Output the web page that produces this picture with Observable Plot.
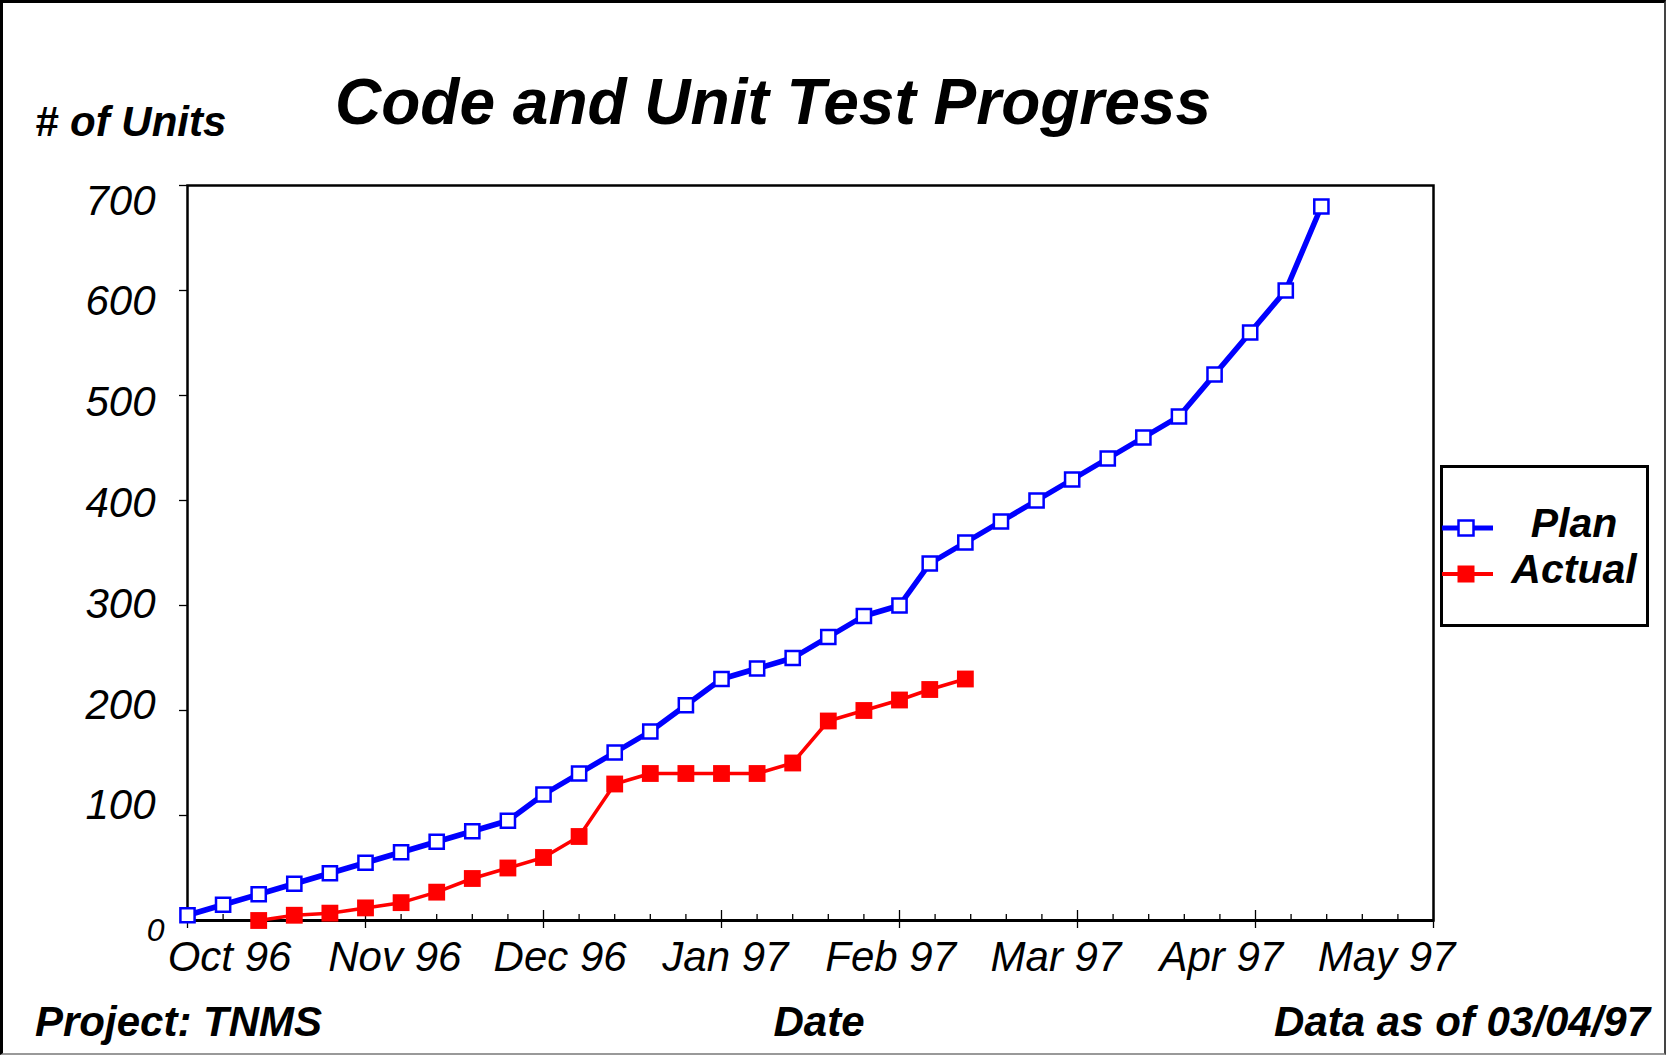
<!DOCTYPE html>
<html><head><meta charset="utf-8">
<script src="https://cdn.jsdelivr.net/npm/d3@7"></script>
<script src="https://cdn.jsdelivr.net/npm/@observablehq/plot@0.6"></script>
<style>
html,body{margin:0;padding:0;background:#fff;}
#page{position:relative;width:1666px;height:1055px;overflow:hidden;background:#fff;font-family:"Liberation Sans",Arial,Helvetica,sans-serif;}
#chart{position:absolute;left:0;top:0;}
#overlay{position:absolute;left:0;top:0;}
#border{position:absolute;left:0;top:0;width:1666px;height:1055px;box-sizing:border-box;border-left:3px solid #000;border-top:3px solid #000;border-right:2px solid #444;border-bottom:2px solid #999;pointer-events:none;}
</style></head>
<body>
<div id="page"><div id="chart"></div><svg id="overlay" width="1666" height="1055"></svg><div id="border"></div></div>
<script>
// ---- data ----
const monthLabels = ["Oct 96", "Nov 96", "Dec 96", "Jan 97", "Feb 97", "Mar 97", "Apr 97", "May 97"];
const planWeek = [0, 1, 2, 3, 4, 5, 6, 7, 8, 9, 10, 11, 12, 13, 14, 15, 16, 17, 18, 19, 20,
  20.85, 21.85, 22.85, 23.85, 24.85, 25.85, 26.85, 27.85, 28.85, 29.85, 30.85, 31.85];
const planUnits = [5, 15, 25, 35, 45, 55, 65, 75, 85, 95, 120, 140, 160, 180, 205, 230, 240, 250, 270, 290, 300,
  340, 360, 380, 400, 420, 440, 460, 480, 520, 560, 600, 680];
const actualWeek = [2, 3, 4, 5, 6, 7, 8, 9, 10, 11, 12, 13, 14, 15, 16, 17, 18, 19, 20, 20.85, 21.85];
const actualUnits = [0, 5, 7, 12, 17, 27, 40, 50, 60, 80, 130, 140, 140, 140, 140, 150, 190, 200, 210, 220, 230];
const yTicks = [100, 200, 300, 400, 500, 600, 700];
const seriesNames = ["Plan", "Actual"];
const seriesColors = ["#0000ff", "#ff0000"];

const titleText = "Code and Unit Test Progress";
const yTitle = "# of Units";
const xTitle = "Date";
const footLeft = "Project: TNMS";
const footRight = "Data as of 03/04/97";

// ---- layout ----
const FONT = '"Liberation Sans", Arial, Helvetica, sans-serif';
const W = 1666, H = 1055;
const M = {left: 187, right: 233, top: 185, bottom: 135};
const plotW = W - M.left - M.right;
const plotH = H - M.top - M.bottom;
const weeksPerMonth = 5;
const nMonths = monthLabels.length - 1;
const majorTicks = d3.range(0, nMonths * weeksPerMonth + 1, weeksPerMonth);
const minorTicks = d3.range(0, nMonths * weeksPerMonth + 1).filter(d => d % weeksPerMonth);
// the original spreads its tick labels a little tighter than its ticks
const labelAt = i => 1.18 + 4.643 * i;
const yLabelAt = v => 400 + (v - 400) * 0.96;

const plan = planWeek.map((w, i) => ({week: w, units: planUnits[i]}));
const actual = actualWeek.map((w, i) => ({week: w, units: actualUnits[i]}));

const chart = Plot.plot({
  width: W, height: H,
  marginLeft: M.left, marginRight: M.right, marginTop: M.top, marginBottom: M.bottom,
  x: {type: "linear", domain: [0, nMonths * weeksPerMonth], axis: null},
  y: {type: "linear", domain: [0, 700], axis: null},
  style: {fontFamily: FONT, background: "transparent", color: "#000", overflow: "visible"},
  marks: [
    Plot.tickX(minorTicks, {x: d => d, insetTop: plotH - 6, stroke: "#000", strokeWidth: 1.3}),
    Plot.tickX(majorTicks, {x: d => d, insetTop: plotH - 10, insetBottom: -8, stroke: "#000", strokeWidth: 1.3}),
    Plot.tickY(yTicks, {y: d => d, insetLeft: -8, insetRight: plotW, stroke: "#000", strokeWidth: 1.3}),
    Plot.frame({stroke: "#000", strokeWidth: 2.5}),
    Plot.ruleY([0], {stroke: "#000", strokeWidth: 3}),
    Plot.text(yTicks, {y: d => yLabelAt(d), frameAnchor: "left", lineAnchor: "middle", dx: -32, dy: 3,
      text: d => String(d), textAnchor: "end", fontSize: 42, fontStyle: "italic", fill: "#000"}),
    Plot.text([0], {y: d => d, frameAnchor: "left", lineAnchor: "middle", dx: -23, dy: 10,
      text: d => String(d), textAnchor: "end", fontSize: 32, fontStyle: "italic", fill: "#000"}),
    Plot.text(monthLabels, {x: (d, i) => labelAt(i), frameAnchor: "bottom", lineAnchor: "middle", dy: 37,
      text: d => d, fontSize: 42, fontStyle: "italic", fill: "#000"}),
    Plot.line(plan, {x: "week", y: "units", stroke: seriesColors[0], strokeWidth: 5.5, strokeLinejoin: "miter", strokeLinecap: "butt"}),
    Plot.dot(plan, {x: "week", y: "units", symbol: "square", r: 8, fill: "#fff", stroke: seriesColors[0], strokeWidth: 2.5}),
    Plot.line(actual, {x: "week", y: "units", stroke: seriesColors[1], strokeWidth: 3.5, strokeLinejoin: "miter", strokeLinecap: "butt"}),
    Plot.dot(actual, {x: "week", y: "units", symbol: "square", r: 9.5, fill: seriesColors[1], stroke: "none"})
  ]
});
document.getElementById("chart").appendChild(chart);

// ---- titles, footer and legend ----
const ov = d3.select("#overlay");
function label(txt, x, y, size, anchor) {
  ov.append("text").attr("x", x).attr("y", y).attr("text-anchor", anchor || "start")
    .attr("font-family", FONT).attr("font-size", size).attr("font-weight", "bold").attr("font-style", "italic")
    .attr("fill", "#000").text(txt);
}
label(yTitle, 35, 136, 42);
label(titleText, 335, 124, 64);
label(footLeft, 35, 1036, 42);
label(xTitle, 819, 1036, 42, "middle");
label(footRight, 1650, 1036, 42, "end");

const lg = ov.append("g");
lg.append("rect").attr("x", 1441.5).attr("y", 466.5).attr("width", 206).attr("height", 159)
  .attr("fill", "#fff").attr("stroke", "#000").attr("stroke-width", 3);
seriesNames.forEach((name, i) => {
  const cy = 528 + i * 46;
  const color = seriesColors[i];
  lg.append("line").attr("x1", 1442).attr("x2", 1493).attr("y1", cy).attr("y2", cy)
    .attr("stroke", color).attr("stroke-width", i === 0 ? 5 : 4);
  const s = i === 0 ? 15 : 17;
  lg.append("rect").attr("x", 1466 - s / 2).attr("y", cy - s / 2).attr("width", s).attr("height", s)
    .attr("fill", i === 0 ? "#fff" : color).attr("stroke", i === 0 ? color : "none").attr("stroke-width", 2.5);
  lg.append("text").attr("x", 1574).attr("y", cy + 9).attr("text-anchor", "middle")
    .attr("font-family", FONT).attr("font-size", 41).attr("font-weight", "bold").attr("font-style", "italic")
    .attr("fill", "#000").text(name);
});
</script>
</body></html>
